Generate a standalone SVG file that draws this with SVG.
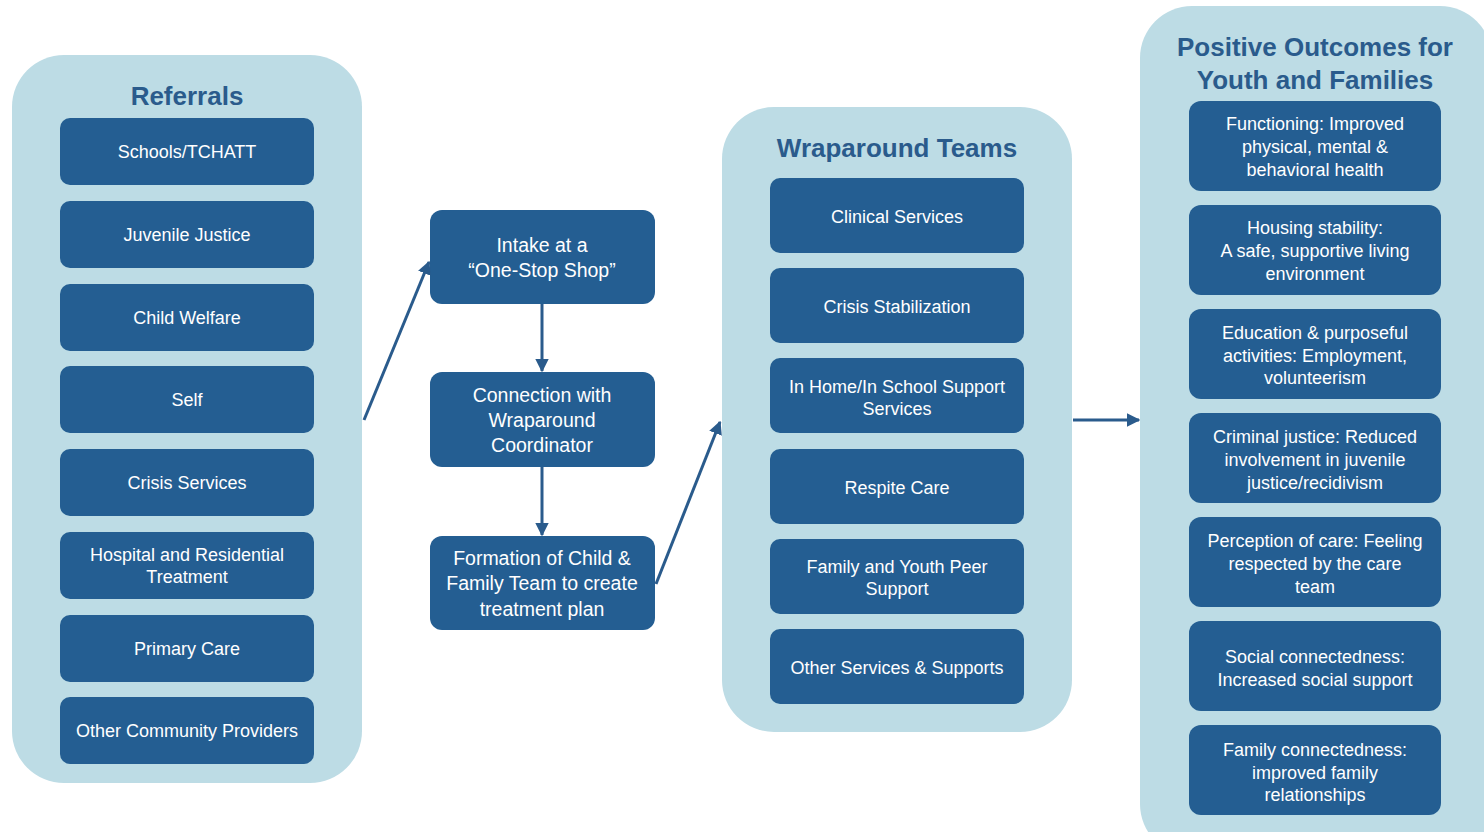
<svg xmlns="http://www.w3.org/2000/svg" width="1484" height="832" viewBox="0 0 1484 832">
<defs>
<style>
.panel{fill:#BDDCE5}
.box{fill:#245E92}
.title{font-family:"Liberation Sans",Arial,sans-serif;font-weight:bold;font-size:26px;fill:#2A5B8C;text-anchor:middle}
.t{font-family:"Liberation Sans",Arial,sans-serif;font-size:18px;fill:#FFFFFF;text-anchor:middle}
.tm{font-family:"Liberation Sans",Arial,sans-serif;font-size:19.5px;fill:#FFFFFF;text-anchor:middle}
.conn{stroke:#2A5B8C;stroke-width:3;fill:none}
</style>
<marker id="ah" viewBox="0 0 10 10" refX="9" refY="5" markerWidth="4.5" markerHeight="4.5" orient="auto" markerUnits="strokeWidth">
<path d="M0,0 L10,5 L0,10 z" fill="#2A5B8C"/>
</marker>
</defs>
<rect width="1484" height="832" fill="#FFFFFF"/>

<g id="referrals">
<rect class="panel" x="12" y="55" width="350" height="728" rx="52"/>
<text class="title" x="187" y="105">Referrals</text>
<g id="ref-schools"><rect class="box" x="60" y="118" width="254" height="67" rx="10"/><text class="t" x="187" y="158">Schools/TCHATT</text></g>
<g id="ref-juvenile"><rect class="box" x="60" y="201" width="254" height="67" rx="10"/><text class="t" x="187" y="241">Juvenile Justice</text></g>
<g id="ref-child"><rect class="box" x="60" y="284" width="254" height="67" rx="10"/><text class="t" x="187" y="324">Child Welfare</text></g>
<g id="ref-self"><rect class="box" x="60" y="366" width="254" height="67" rx="10"/><text class="t" x="187" y="406">Self</text></g>
<g id="ref-crisis"><rect class="box" x="60" y="449" width="254" height="67" rx="10"/><text class="t" x="187" y="489">Crisis Services</text></g>
<g id="ref-hospital"><rect class="box" x="60" y="532" width="254" height="67" rx="10"/><text class="t" x="187" y="561">Hospital and Residential</text><text class="t" x="187" y="583">Treatment</text></g>
<g id="ref-primary"><rect class="box" x="60" y="615" width="254" height="67" rx="10"/><text class="t" x="187" y="655">Primary Care</text></g>
<g id="ref-other"><rect class="box" x="60" y="697" width="254" height="67" rx="10"/><text class="t" x="187" y="737">Other Community Providers</text></g>
</g>

<g id="intake"><rect class="box" x="430" y="210" width="225" height="94" rx="12"/><text class="tm" x="542" y="252">Intake at a</text><text class="tm" x="542" y="277">“One-Stop Shop”</text></g>
<g id="connection"><rect class="box" x="430" y="372" width="225" height="95" rx="12"/><text class="tm" x="542" y="402">Connection with</text><text class="tm" x="542" y="427">Wraparound</text><text class="tm" x="542" y="452">Coordinator</text></g>
<g id="formation"><rect class="box" x="430" y="536" width="225" height="94" rx="12"/><text class="tm" x="542" y="565">Formation of Child &amp;</text><text class="tm" x="542" y="590">Family Team to create</text><text class="tm" x="542" y="616">treatment plan</text></g>

<g id="wraparound">
<rect class="panel" x="722" y="107" width="350" height="625" rx="52"/>
<text class="title" x="897" y="157">Wraparound Teams</text>
<g id="wr-clinical"><rect class="box" x="770" y="178" width="254" height="75" rx="10"/><text class="t" x="897" y="223">Clinical Services</text></g>
<g id="wr-crisis"><rect class="box" x="770" y="268" width="254" height="75" rx="10"/><text class="t" x="897" y="313">Crisis Stabilization</text></g>
<g id="wr-home"><rect class="box" x="770" y="358" width="254" height="75" rx="10"/><text class="t" x="897" y="393">In Home/In School Support</text><text class="t" x="897" y="415">Services</text></g>
<g id="wr-respite"><rect class="box" x="770" y="449" width="254" height="75" rx="10"/><text class="t" x="897" y="494">Respite Care</text></g>
<g id="wr-peer"><rect class="box" x="770" y="539" width="254" height="75" rx="10"/><text class="t" x="897" y="573">Family and Youth Peer</text><text class="t" x="897" y="595">Support</text></g>
<g id="wr-other"><rect class="box" x="770" y="629" width="254" height="75" rx="10"/><text class="t" x="897" y="674">Other Services &amp; Supports</text></g>
</g>

<g id="outcomes">
<rect class="panel" x="1140" y="6" width="352" height="850" rx="52"/>
<text class="title" x="1315" y="56">Positive Outcomes for</text>
<text class="title" x="1315" y="89">Youth and Families</text>
<g id="oc-functioning"><rect class="box" x="1189" y="101" width="252" height="90" rx="12"/><text class="t" x="1315" y="130">Functioning: Improved</text><text class="t" x="1315" y="153">physical, mental &amp;</text><text class="t" x="1315" y="176">behavioral health</text></g>
<g id="oc-housing"><rect class="box" x="1189" y="205" width="252" height="90" rx="12"/><text class="t" x="1315" y="234">Housing stability:</text><text class="t" x="1315" y="257">A safe, supportive living</text><text class="t" x="1315" y="280">environment</text></g>
<g id="oc-education"><rect class="box" x="1189" y="309" width="252" height="90" rx="12"/><text class="t" x="1315" y="339">Education &amp; purposeful</text><text class="t" x="1315" y="362">activities: Employment,</text><text class="t" x="1315" y="384">volunteerism</text></g>
<g id="oc-criminal"><rect class="box" x="1189" y="413" width="252" height="90" rx="12"/><text class="t" x="1315" y="443">Criminal justice: Reduced</text><text class="t" x="1315" y="466">involvement in juvenile</text><text class="t" x="1315" y="489">justice/recidivism</text></g>
<g id="oc-perception"><rect class="box" x="1189" y="517" width="252" height="90" rx="12"/><text class="t" x="1315" y="547">Perception of care: Feeling</text><text class="t" x="1315" y="570">respected by the care</text><text class="t" x="1315" y="593">team</text></g>
<g id="oc-social"><rect class="box" x="1189" y="621" width="252" height="90" rx="12"/><text class="t" x="1315" y="663">Social connectedness:</text><text class="t" x="1315" y="686">Increased social support</text></g>
<g id="oc-family"><rect class="box" x="1189" y="725" width="252" height="90" rx="12"/><text class="t" x="1315" y="756">Family connectedness:</text><text class="t" x="1315" y="779">improved family</text><text class="t" x="1315" y="801">relationships</text></g>
</g>

<g id="connectors">
<line class="conn" x1="364" y1="420" x2="429" y2="262" marker-end="url(#ah)"/>
<line class="conn" x1="542" y1="304" x2="542" y2="371" marker-end="url(#ah)"/>
<line class="conn" x1="542" y1="467" x2="542" y2="535" marker-end="url(#ah)"/>
<line class="conn" x1="656" y1="584" x2="720" y2="422" marker-end="url(#ah)"/>
<line class="conn" x1="1073" y1="420" x2="1139" y2="420" marker-end="url(#ah)"/>
</g>
</svg>
